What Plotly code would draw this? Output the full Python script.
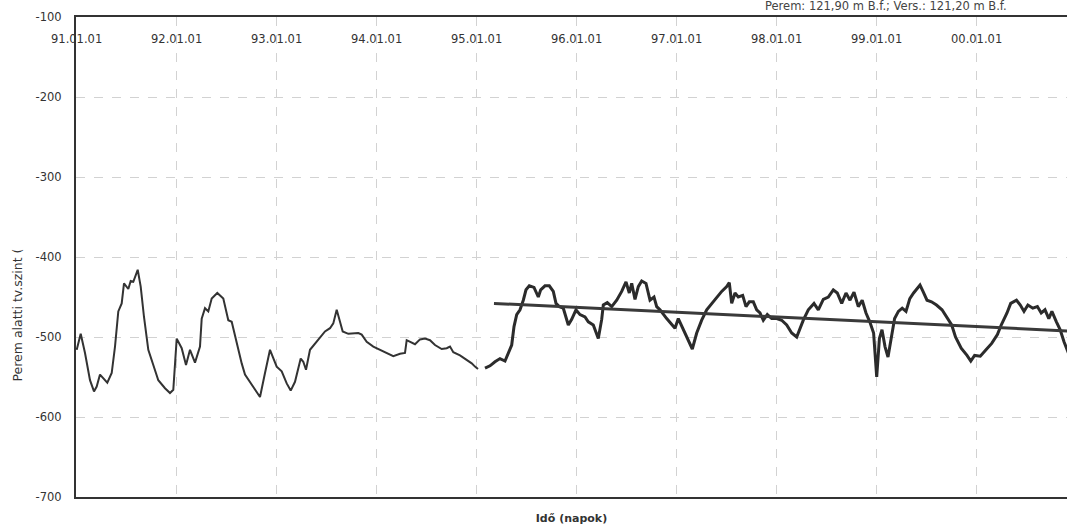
import plotly.graph_objects as go

# ---- data (decimal years, level in cm) ----
s1_year = [1991.007, 1991.047, 1991.09, 1991.14, 1991.18, 1991.207, 1991.24, 1991.273, 1991.313,
           1991.357, 1991.39, 1991.423, 1991.457, 1991.48, 1991.523, 1991.547, 1991.573, 1991.617,
           1991.647, 1991.68, 1991.723, 1991.773, 1991.823, 1991.89, 1991.94, 1991.973, 1992.007,
           1992.057, 1992.10, 1992.14, 1992.19, 1992.24, 1992.257, 1992.29, 1992.323, 1992.357,
           1992.413, 1992.473, 1992.523, 1992.557, 1992.607, 1992.657, 1992.69, 1992.74, 1992.79,
           1992.84, 1992.89, 1992.94, 1993.007, 1993.057, 1993.107, 1993.147, 1993.19, 1993.247,
           1993.273, 1993.30, 1993.34, 1993.39, 1993.44, 1993.49, 1993.54, 1993.573, 1993.607,
           1993.633, 1993.667, 1993.723, 1993.79, 1993.823, 1993.857, 1993.907, 1993.973, 1994.04,
           1994.107, 1994.173, 1994.24, 1994.29, 1994.307, 1994.34, 1994.39, 1994.44, 1994.49,
           1994.54, 1994.59, 1994.657, 1994.707, 1994.74, 1994.773, 1994.84, 1994.89, 1994.923,
           1994.957, 1994.99, 1995.02]
s1_val = [-516, -496, -520, -554, -568, -562, -547, -552, -557,
          -545, -512, -468, -458, -433, -440, -430, -431, -416,
          -437, -475, -516, -535, -554, -564, -570, -566, -502,
          -514, -535, -516, -532, -512, -477, -464, -468, -452,
          -445, -452, -479, -481, -508, -533, -547, -556, -566,
          -575, -545, -516, -537, -543, -558, -567, -556, -527,
          -531, -541, -516, -508, -500, -493, -489, -483, -466,
          -477, -493, -496, -495, -495, -497, -506, -512, -516,
          -520, -524, -521, -520, -504, -506, -509, -503, -502,
          -504, -510, -515, -514, -512, -519, -523, -527, -530,
          -533, -537, -540]

s2_year = [1995.09, 1995.14, 1995.19, 1995.24, 1995.29, 1995.323, 1995.357, 1995.38, 1995.407,
           1995.44, 1995.473, 1995.50, 1995.533, 1995.58, 1995.623, 1995.647, 1995.69, 1995.733,
           1995.773, 1995.80, 1995.833, 1995.873, 1995.923, 1995.957, 1996.00, 1996.04, 1996.09,
           1996.123, 1996.173, 1996.223, 1996.257, 1996.273, 1996.313, 1996.357, 1996.407, 1996.457,
           1996.50, 1996.533, 1996.557, 1996.59, 1996.623, 1996.657, 1996.70, 1996.74, 1996.78,
           1996.807, 1996.84, 1996.907, 1996.99, 1997.023, 1997.073, 1997.123, 1997.163, 1997.207,
           1997.257, 1997.307, 1997.357, 1997.407, 1997.457, 1997.507, 1997.533, 1997.557, 1997.59,
           1997.623, 1997.667, 1997.70, 1997.733, 1997.773, 1997.807, 1997.84, 1997.873, 1997.913,
           1997.957, 1998.007, 1998.057, 1998.107, 1998.157, 1998.207, 1998.233, 1998.273, 1998.323,
           1998.38, 1998.423, 1998.473, 1998.523, 1998.573, 1998.613, 1998.657, 1998.70, 1998.74,
           1998.78, 1998.823, 1998.862, 1998.90, 1998.938, 1998.976, 1999.007, 1999.034, 1999.06,
           1999.09, 1999.12, 1999.148, 1999.186, 1999.224, 1999.262, 1999.30, 1999.338, 1999.376,
           1999.414, 1999.44, 1999.47, 1999.51, 1999.555, 1999.605, 1999.66, 1999.72, 1999.757,
           1999.795, 1999.852, 1999.91, 1999.948, 1999.986, 2000.043, 2000.10, 2000.157, 2000.214,
           2000.252, 2000.31, 2000.347, 2000.405, 2000.443, 2000.48, 2000.519, 2000.568, 2000.614,
           2000.652, 2000.69, 2000.728, 2000.759, 2000.804, 2000.842, 2000.88, 2000.91, 2000.94]
s2_val = [-539, -536, -531, -527, -530, -520, -510, -487, -472,
          -466, -454, -441, -436, -438, -450, -441, -436, -436,
          -443, -458, -462, -464, -485, -478, -466, -472, -475,
          -481, -485, -502, -478, -460, -457, -462, -454, -443,
          -431, -445, -433, -453, -437, -430, -433, -454, -450,
          -462, -466, -477, -489, -477, -491, -506, -515, -495,
          -479, -466, -458, -450, -443, -437, -432, -458, -445,
          -450, -448, -462, -456, -456, -466, -470, -479, -472,
          -477, -477, -479, -485, -495, -500, -491, -479, -466,
          -458, -466, -453, -450, -441, -445, -458, -445, -454,
          -444, -462, -454, -470, -481, -495, -550, -502, -491,
          -512, -525, -504, -477, -468, -464, -468, -452, -445,
          -439, -435, -443, -454, -456, -460, -466, -477, -485,
          -500, -514, -523, -530, -523, -524, -516, -508, -497,
          -485, -470, -458, -454, -460, -468, -460, -464, -462,
          -470, -466, -477, -468, -481, -491, -506, -516, -525]

trend_year = [1995.18, 2001.0]
trend_val = [-458, -493]

tick_years = [1991, 1992, 1993, 1994, 1995, 1996, 1997, 1998, 1999, 2000]
tick_text = ["91.01.01", "92.01.01", "93.01.01", "94.01.01", "95.01.01",
             "96.01.01", "97.01.01", "98.01.01", "99.01.01", "00.01.01"]
y_ticks = [-100, -200, -300, -400, -500, -600, -700]
y_tick_text = ["-100", "-200", "-300", "-400", "-500", "-600", "-700"]

fig = go.Figure()
fig.add_trace(go.Scatter(x=s1_year, y=s1_val, mode="lines",
                         line=dict(color="#333333", width=2), showlegend=False))
fig.add_trace(go.Scatter(x=s2_year, y=s2_val, mode="lines",
                         line=dict(color="#2b2b2b", width=3), showlegend=False))
fig.add_trace(go.Scatter(x=trend_year, y=trend_val, mode="lines",
                         line=dict(color="#3a3a3a", width=3), showlegend=False))

font_main = "DejaVu Sans, Arial, sans-serif"

for xv, tx in zip(tick_years, tick_text):
    fig.add_annotation(x=xv, y=1, xref="x", yref="paper", text=tx, showarrow=False,
                       yanchor="top", xanchor="center", yshift=-13,
                       font=dict(family=font_main, size=11.5, color="#333333"))

fig.add_annotation(x=0.693, y=1.0, xref="paper", yref="paper",
                   text="Perem: 121,90 m B.f.; Vers.: 121,20 m B.f.",
                   showarrow=False, xanchor="left", yanchor="bottom", yshift=2,
                   font=dict(family=font_main, size=11.5, color="#444444"))

fig.add_annotation(x=-0.059, y=0.379, xref="paper", yref="paper",
                   text="Perem alatti tv.szint (", textangle=-90, showarrow=False,
                   xanchor="center", yanchor="middle",
                   font=dict(family=font_main, size=12.5, color="#333333"))

fig.update_layout(
    width=1067, height=531,
    margin=dict(l=76, r=0, t=17, b=34),
    paper_bgcolor="white", plot_bgcolor="white",
    xaxis=dict(range=[1991, 2000.91], tickvals=tick_years, ticktext=tick_text,
               showticklabels=False, showgrid=True, gridcolor="#d2d2d2",
               griddash="dash", gridwidth=1, zeroline=False,
               showline=True, linecolor="#333333", linewidth=2, mirror=True,
               title=dict(text="<b>Idő (napok)</b>", standoff=16,
                          font=dict(family=font_main, size=11, color="#333333"))),
    yaxis=dict(range=[-700, -100], tickvals=y_ticks, ticktext=y_tick_text,
               showgrid=True, gridcolor="#d2d2d2",
               griddash="dash", gridwidth=1, zeroline=False,
               showline=True, linecolor="#333333", linewidth=2,
               ticks="outside", ticklen=10, tickcolor="rgba(0,0,0,0)",
               tickfont=dict(family=font_main, size=11.5, color="#333333")),
)

fig.write_html("out.html", config={"displayModeBar": False},
               post_script="document.body.style.margin='0px';")
